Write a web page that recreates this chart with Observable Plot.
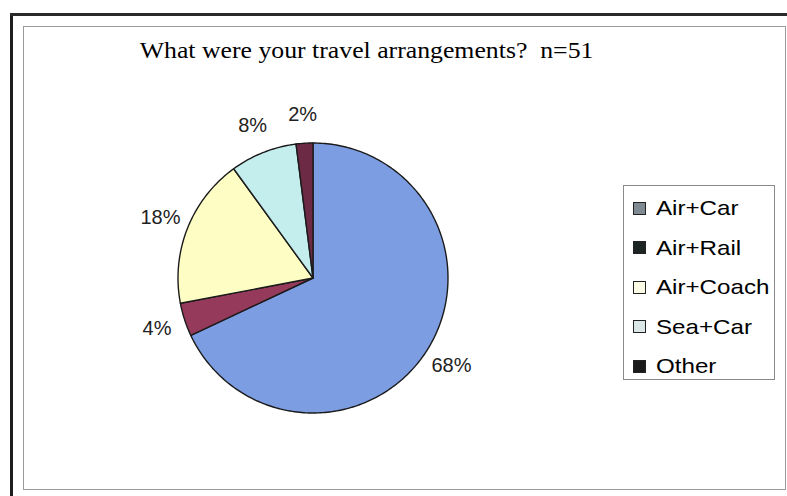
<!DOCTYPE html>
<html>
<head>
<meta charset="utf-8">
<script src="https://cdn.jsdelivr.net/npm/d3@7"></script>
<script src="https://cdn.jsdelivr.net/npm/@observablehq/plot@0.6"></script>
<style>
  html, body { margin: 0; padding: 0; background: #fff; }
  #wrap { position: relative; width: 787px; height: 496px; overflow: hidden; background: #fff; }
  #outerLeft { position: absolute; left: 10px; top: 13px; width: 3px; height: 483px; background: #1e1e1e; }
  #outerTop { position: absolute; left: 10px; top: 13px; width: 777px; height: 3px; background: #2a2a2a; }
  #frame { position: absolute; left: 23px; top: 26px; width: 761px; height: 462px; border: 1.5px solid #9a9a9a; }
  #title { position: absolute; left: 0; width: 733px; top: 38px; text-align: center; font-family: "Liberation Serif", "Times New Roman", serif; font-size: 23px; color: #000; white-space: pre; transform: scaleX(1.12); transform-origin: 366px 0; }
  #chart { position: absolute; left: 0; top: 0; }
  #legend { position: absolute; left: 623px; top: 185px; width: 152px; height: 195px; border: 1.5px solid #8a8a8a; box-sizing: border-box; background: #fff; }
  .item { position: absolute; left: 9px; height: 24px; display: flex; align-items: center; font-family: "Liberation Sans", Arial, sans-serif; font-size: 21px; color: #000; white-space: nowrap; }
  .sw { width: 13px; height: 13px; box-sizing: border-box; margin-right: 10px; border: 1px solid #222; }
  .tx { display: inline-block; transform: scaleX(1.15); transform-origin: 0 50%; }
</style>
</head>
<body>
<div id="wrap">
  <div id="outerLeft"></div>
  <div id="outerTop"></div>
  <div id="frame"></div>
  <div id="chart"></div>
  <div id="title"></div>
  <div id="legend"></div>
</div>
<script>
// ---- data ----
const chartTitle = "What were your travel arrangements?  n=51";
const categories = ["Air+Car", "Air+Rail", "Air+Coach", "Sea+Car", "Other"];
const shares = [68, 4, 18, 8, 2];
const percentLabels = ["68%", "4%", "18%", "8%", "2%"];

// ---- styles ----
const sliceColors = ["#7d9de2", "#963a5c", "#fdfdc4", "#c4eeee", "#6c2a44"];
const legendColors = ["#7f8a92", "#1c2424", "#fbfbe6", "#dbe7e7", "#1a1a1a"];

document.getElementById("title").textContent = chartTitle;

// slice outlines built from the values
const total = d3.sum(shares);
let cum = 0;
const pts = [];
const labels = [];
categories.forEach((c, i) => {
  const a0 = cum / total * 2 * Math.PI;
  cum += shares[i];
  const a1 = cum / total * 2 * Math.PI;
  pts.push({c, x: 0, y: 0});
  const n = Math.max(2, Math.ceil((a1 - a0) / (Math.PI / 180)));
  for (let k = 0; k <= n; k++) {
    const a = a0 + (a1 - a0) * k / n;
    pts.push({c, x: Math.sin(a), y: Math.cos(a)});
  }
  const am = (a0 + a1) / 2;
  labels.push({text: percentLabels[i], x: 1.215 * Math.sin(am), y: 1.215 * Math.cos(am)});
});

const plot = Plot.plot({
  width: 787,
  height: 496,
  margin: 0,
  x: {domain: [-1, 1], range: [177.5, 447.5], axis: null},
  y: {domain: [-1, 1], range: [412.5, 142.5], axis: null},
  color: {domain: categories, range: sliceColors},
  style: {background: "transparent"},
  marks: [
    Plot.line(pts, {x: "x", y: "y", z: "c", fill: "c", stroke: "#1b1b1b", strokeWidth: 1.4, curve: "linear-closed"}),
    Plot.text(labels, {x: "x", y: "y", text: "text", fontSize: 20, fill: "#222", fontFamily: "Liberation Sans, Arial, sans-serif"})
  ]
});
document.getElementById("chart").appendChild(plot);

// legend
const legend = document.getElementById("legend");
categories.forEach((c, i) => {
  const it = document.createElement("div");
  it.className = "item";
  it.style.top = (10 + i * 39.5) + "px";
  const sw = document.createElement("span");
  sw.className = "sw";
  sw.style.background = legendColors[i];
  const tx = document.createElement("span");
  tx.className = "tx";
  tx.textContent = c;
  it.appendChild(sw);
  it.appendChild(tx);
  legend.appendChild(it);
});
</script>
</body>
</html>
